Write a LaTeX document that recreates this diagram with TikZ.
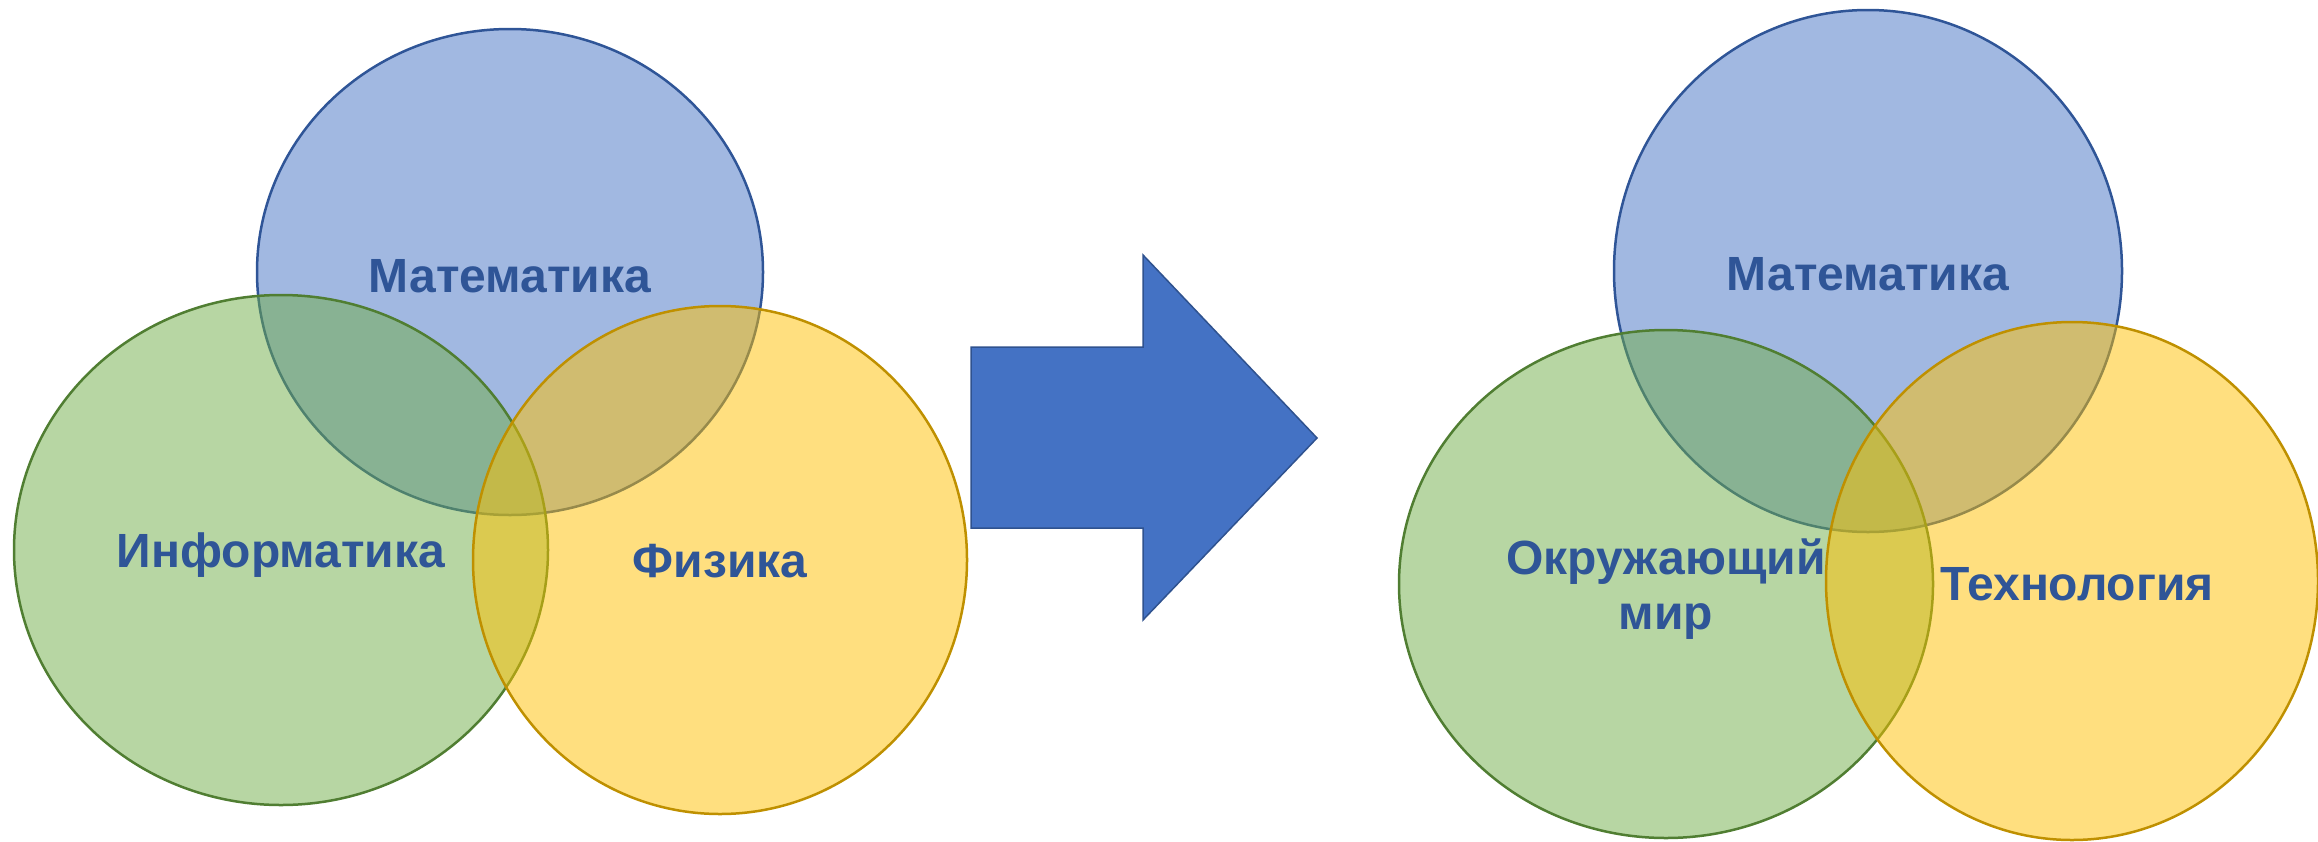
\documentclass[tikz,border=0pt]{standalone}
\usepackage{fontspec}
\setmainfont{Liberation Sans}
\usepackage{xcolor}
\usetikzlibrary{positioning}
\definecolor{mathblue}{HTML}{4472C4}
\definecolor{mathline}{HTML}{2F5597}
\definecolor{infgreen}{HTML}{70AD47}
\definecolor{infline}{HTML}{507E32}
\definecolor{physgold}{HTML}{FFC000}
\definecolor{physline}{HTML}{BF9000}
\definecolor{arrowline}{HTML}{2F528F}
\definecolor{labelblue}{HTML}{2F5597}

\begin{document}
\begin{tikzpicture}[x=1pt,y=-1pt,
    set/.style={line width=2.5pt,fill opacity=0.5},
    subj/.style={font=\fontsize{48}{55}\selectfont\bfseries,
      text=labelblue,anchor=base,inner sep=0pt,align=center}]
  \useasboundingbox (0,0) rectangle (2318,841);
  % before
  \draw[set,draw=mathline,fill=mathblue] (510,272)
    ellipse [x radius=253pt,y radius=243pt];
  \draw[set,draw=infline,fill=infgreen] (281,550)
    ellipse [x radius=267pt,y radius=255pt];
  \draw[set,draw=physline,fill=physgold] (720,560)
    ellipse [x radius=247pt,y radius=254pt];
  \node[subj] (mathL) at (510,292) {Математика};
  \node[subj] (inf) at (281,567) {Информатика};
  \node[subj] (phys) at (720,577) {Физика};
  % arrow
  \draw[line width=1.5pt,draw=arrowline,fill=mathblue]
    (971,347) -- (1143,347) -- (1143,255) -- (1317,438)
    -- (1143,620) -- (1143,528) -- (971,528) -- cycle;
  % after
  \draw[set,draw=mathline,fill=mathblue] (1868,271)
    ellipse [x radius=254pt,y radius=261pt];
  \draw[set,draw=infline,fill=infgreen] (1666,584)
    ellipse [x radius=267pt,y radius=254pt];
  \draw[set,draw=physline,fill=physgold] (2072,581)
    ellipse [x radius=246pt,y radius=259pt];
  \node[subj] (mathR) at (1868,290) {Математика};
  \node[subj] (world) at (1666,629) {Окружающий\\мир};
  \node[subj] (tech) at (2077,600) {Технология};
\end{tikzpicture}
\end{document}
